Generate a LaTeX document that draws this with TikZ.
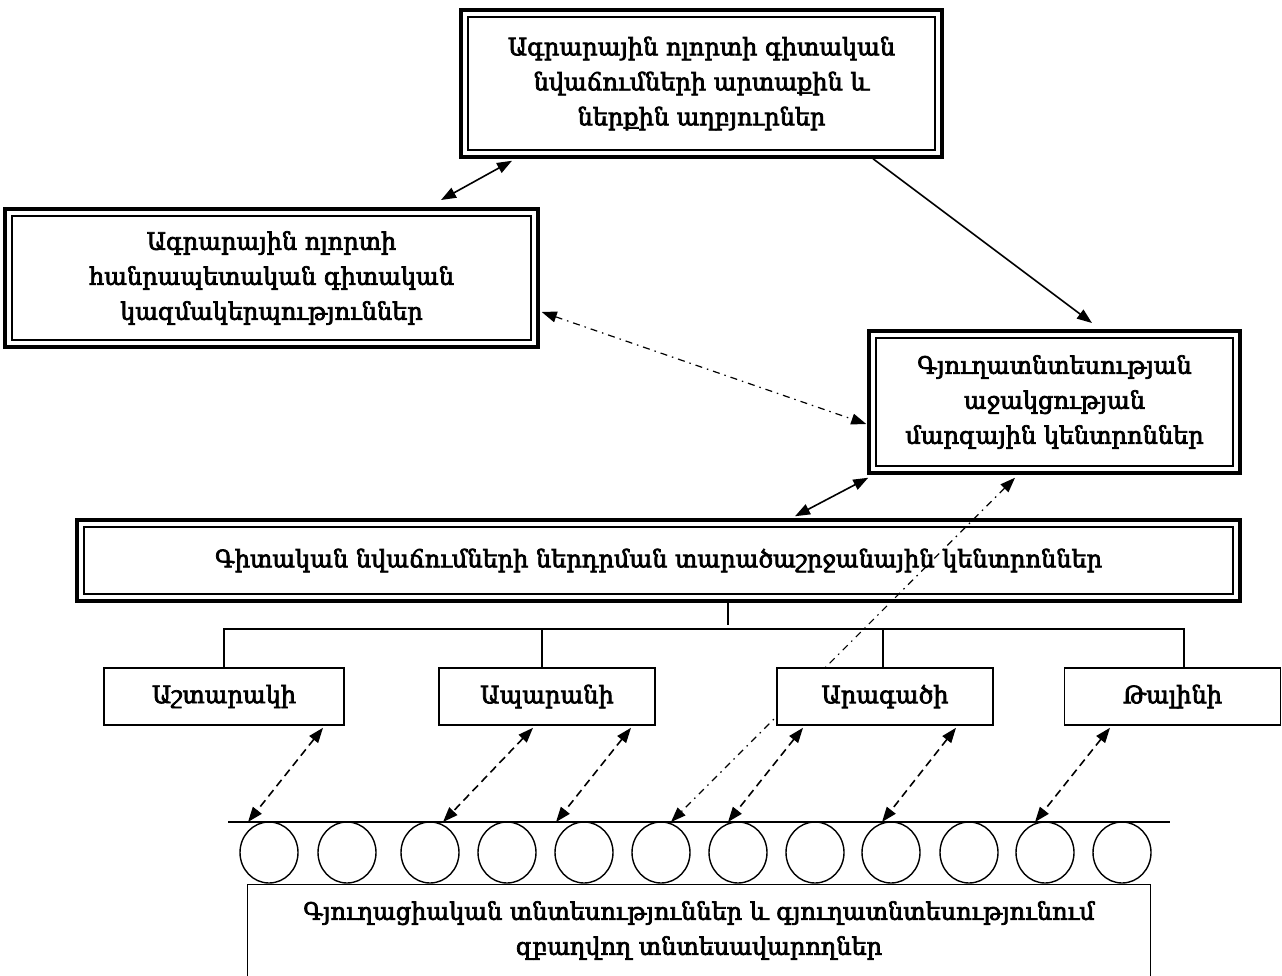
\documentclass[tikz,border=0pt]{standalone}
\usepackage{fontspec}
\setmainfont{DejaVu Serif}
\newfontfamily\armfont[FakeBold=3]{DejaVu Serif}
\usetikzlibrary{arrows.meta,calc,shapes.geometric}
\begin{document}
\begin{tikzpicture}[x=1pt,y=-1pt,
  every node/.style={font=\armfont\fontsize{24}{35}\selectfont, align=center, inner sep=0pt},
  dbox/.style={draw, line width=3.5pt, fill=white,
    path picture={\draw[line width=2pt]
      ([shift={(7pt,-7pt)}]path picture bounding box.north west) rectangle
      ([shift={(-7pt,7pt)}]path picture bounding box.south east);}},
  rbox/.style={draw, line width=1.6pt, fill=white, minimum height=57pt},
  conn/.style={line width=1.6pt, >={Triangle[length=15pt,width=11pt]}},
  dashconn/.style={conn, dash pattern=on 8pt off 5pt},
  dotconn/.style={conn, line width=1.2pt, dash pattern=on 7pt off 5pt on 1.5pt off 5pt},
  farmunit/.style={draw, ellipse, line width=1.4pt, minimum width=58pt, minimum height=61pt}
]
\useasboundingbox (0,0) rectangle (1282,976);

% upper level boxes
\node[dbox, minimum width=481pt, minimum height=147pt] (src) at (701.5,83.5)
  {Ագրարային ոլորտի գիտական\\նվաճումների արտաքին և\\ներքին աղբյուրներ};
\node[dbox, minimum width=533pt, minimum height=138pt] (org) at (271.5,278)
  {Ագրարային ոլորտի\\հանրապետական գիտական\\կազմակերպություններ};
\node[dbox, minimum width=371pt, minimum height=142pt] (sup) at (1054.5,402)
  {Գյուղատնտեսության\\աջակցության\\մարզային կենտրոններ};
\node[dbox, minimum width=1163pt, minimum height=81pt] (reg) at (658.5,560.5)
  {Գիտական նվաճումների ներդրման տարածաշրջանային կենտրոններ};

% base line of the farms
\coordinate (bl) at (228,822);
\coordinate (br) at (1170,822);
\draw[line width=1.5pt] (bl) -- (br);

% dash-dot links
\coordinate (f6) at (671,822);
\draw[dotconn,<->] ([shift={(-39.5,3)}]sup.south) -- (f6);
\draw[dotconn,<->] ([shift={(2,34)}]org.east) -- ([shift={(-1,22)}]sup.west);

% district boxes
\node[rbox, minimum width=240pt] (ash) at (224,696.5) {Աշտարակի};
\node[rbox, minimum width=216pt] (apa) at (547,696.5) {Ապարանի};
\node[rbox, minimum width=216pt] (ara) at (885,696.5) {Արագածի};
\node[rbox, minimum width=216pt] (tal) at (1172.5,696.5) {Թալինի};

% tree from the regional centres to the districts
\coordinate (bus) at (0,629);
\draw[line width=1.5pt] ([xshift=69.5pt]reg.south) -- ++(0,22);
\draw[line width=1.5pt] (ash.north) -- (ash.north |- bus) -- ([xshift=11.5pt]tal.north |- bus) -- ([xshift=11.5pt]tal.north);
\draw[line width=1.5pt] ([xshift=-5pt]apa.north) -- ([xshift=-5pt]apa.north |- bus);
\draw[line width=1.5pt] ([xshift=-2pt]ara.north) -- ([xshift=-2pt]ara.north |- bus);

% solid links
\coordinate (orgtip) at (441,200);
\coordinate (suptip) at (1092,323);
\draw[conn,<->] ([shift={(-189.5,2)}]src.south) -- (orgtip);
\draw[conn,->] ([shift={(171.5,0)}]src.south) -- (suptip);
\draw[conn,<->] ([shift={(1,3)}]sup.south west) -- ([shift={(136.5,-2)}]reg.north);

% dashed links from districts to farms
\coordinate (f1) at (248,822);
\coordinate (f2) at (443,822);
\coordinate (f3) at (556,822);
\coordinate (f4) at (728,822);
\coordinate (f5) at (882,822);
\coordinate (f7) at (1035,822);
\draw[dashconn,<->] ([shift={(99,2)}]ash.south) -- (f1);
\draw[dashconn,<->] ([shift={(-14,2)}]apa.south) -- (f2);
\draw[dashconn,<->] ([shift={(84,2)}]apa.south) -- (f3);
\draw[dashconn,<->] ([shift={(-82,2)}]ara.south) -- (f4);
\draw[dashconn,<->] ([shift={(71,2)}]ara.south) -- (f5);
\draw[dashconn,<->] ([shift={(-62.5,2)}]tal.south) -- (f7);

% farms
\foreach \i/\x in {1/269,2/347,3/430,4/507,5/584,6/661,7/738,8/815,9/891,10/969,11/1045,12/1122}
  \node[farmunit] (u\i) at (\x,852.5) {};

% farms box, open at the bottom
\node[minimum width=902pt, minimum height=91pt] (farm) at (699,930.5)
  {Գյուղացիական տնտեսություններ և գյուղատնտեսությունում\\զբաղվող տնտեսավարողներ};
\draw[line width=1.3pt] (farm.south west) -- (farm.north west) -- (farm.north east) -- (farm.south east);
\end{tikzpicture}
\end{document}
